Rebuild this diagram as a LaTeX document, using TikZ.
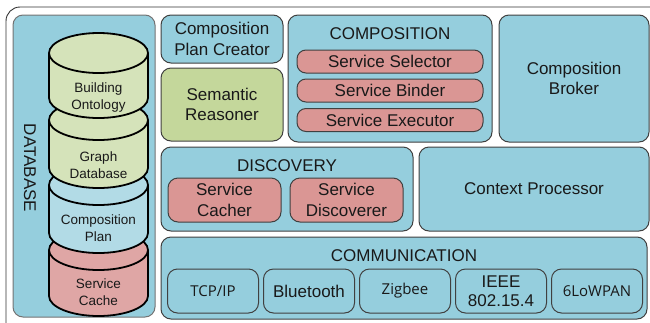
\documentclass[tikz,border=0pt]{standalone}
\usepackage{fontspec}
\setmainfont{Liberation Sans}
\newfontfamily\opensans{Open Sans}
\usetikzlibrary{positioning}

\definecolor{layerblue}{HTML}{95CEDD}
\definecolor{boxred}{HTML}{DA9694}
\definecolor{boxgreen}{HTML}{C4D79B}
\definecolor{cylgreen}{HTML}{D5E3BA}
\definecolor{cylblue}{HTML}{B2DBE6}
\definecolor{cylred}{HTML}{DFA6A5}

\begin{document}
\begin{tikzpicture}[x=1pt, y=1pt, on grid,
  every node/.style={align=center, text=black!90, font=\fontsize{17}{20.5}\selectfont},
  panel/.style={draw=black!75, line width=1pt, fill=layerblue, rounded corners=10pt, inner sep=0pt},
  pill/.style={panel, fill=boxred, rounded corners=9pt, minimum width=186pt, minimum height=23pt},
  discbox/.style={panel, fill=boxred, minimum width=113pt, minimum height=44pt},
  linkbox/.style={panel, minimum width=91pt, minimum height=44pt},
  layertitle/.style={inner sep=0pt},
  dbcyl/.style={draw=black, line width=1.8pt},
  cyltext/.style={font=\fontsize{13.5}{17}\selectfont}]
  \useasboundingbox (0,0) rectangle (650,-322);
  % outer frame
  \draw[black!80, line width=0.9pt, rounded corners=14pt] (6,-7) rectangle (668,-340);

  % database
  \node[panel, draw=black!55, minimum width=142pt, minimum height=302pt] (db) at (84,-166) {};
  \node[rotate=-90] (dbtitle) at (30,-168) {DATABASE};
  \foreach \ytop/\ybot/\ty/\cyl/\nm/\txt in {250/296/292/cylred/cache/{Service\\Cache},
      185/233/228/cylblue/plan/{Composition\\Plan},
      120/168/165/cylgreen/graph/{Graph\\Database},
      53/98/98/cylgreen/onto/{Building\\Ontology}} {
    \filldraw[dbcyl, fill=\cyl] (49,-\ybot) -- (49,-\ytop)
      arc[start angle=180, end angle=0, x radius=49.5pt, y radius=20pt] -- (148,-\ybot)
      arc[start angle=0, end angle=-180, x radius=49.5pt, y radius=20pt] -- cycle;
    \draw[dbcyl] (49,-\ytop) arc[start angle=180, end angle=360, x radius=49.5pt, y radius=20pt];
    \node[cyltext] (\nm) at (98.5,-\ty) {\txt};
  }

  % composition
  \node[panel, minimum width=122pt, minimum height=48pt] (planner) at (222,-39) {Composition\\Plan Creator};
  \node[panel, fill=boxgreen, minimum width=122pt, minimum height=73pt] (reasoner) at (222,-104.5) {Semantic\\Reasoner};
  \node[panel, minimum width=204pt, minimum height=127pt] (comp) at (390,-78.5) {};
  \node[layertitle, below=12.5pt of comp.north] (comptitle) {COMPOSITION};
  \node[pill] (selector) at (390,-61.5) {Service Selector};
  \node[pill, below=29pt of selector] (binder) {Service Binder};
  \node[pill, below=29.5pt of binder] (executor) {Service Executor};
  \node[panel, minimum width=150pt, minimum height=127pt] (broker) at (574,-78.5) {Composition\\Broker};

  % discovery
  \node[panel, minimum width=252pt, minimum height=84pt] (disc) at (287,-189) {};
  \node[layertitle, below=12.5pt of disc.north] (disctitle) {DISCOVERY};
  \node[discbox] (cacher) at (224.5,-200) {Service\\Cacher};
  \node[discbox, right=122pt of cacher] (discoverer) {Service\\Discoverer};
  \node[panel, minimum width=230pt, minimum height=84pt] (context) at (534,-189) {Context Processor};

  % communication
  \node[panel, minimum width=486pt, minimum height=82pt] (comm) at (404,-278) {};
  \node[layertitle, below=12.5pt of comm.north] (commtitle) {COMMUNICATION};
  \node[linkbox, font=\opensans\fontsize{15}{18}\selectfont] (tcp) at (213,-291) {TCP/IP};
  \node[linkbox, right=96pt of tcp] (bt) {Bluetooth};
  \node[linkbox, font=\opensans\fontsize{15}{18}\selectfont, right=96pt of bt] (zigbee) {Zigbee};
  \node[linkbox, font=\fontsize{17}{19.5}\selectfont, right=96pt of zigbee] (ieee) {IEEE\\802.15.4};
  \node[linkbox, font=\opensans\fontsize{15}{18}\selectfont, right=96pt of ieee] (lowpan) {6LoWPAN};
\end{tikzpicture}
\end{document}
